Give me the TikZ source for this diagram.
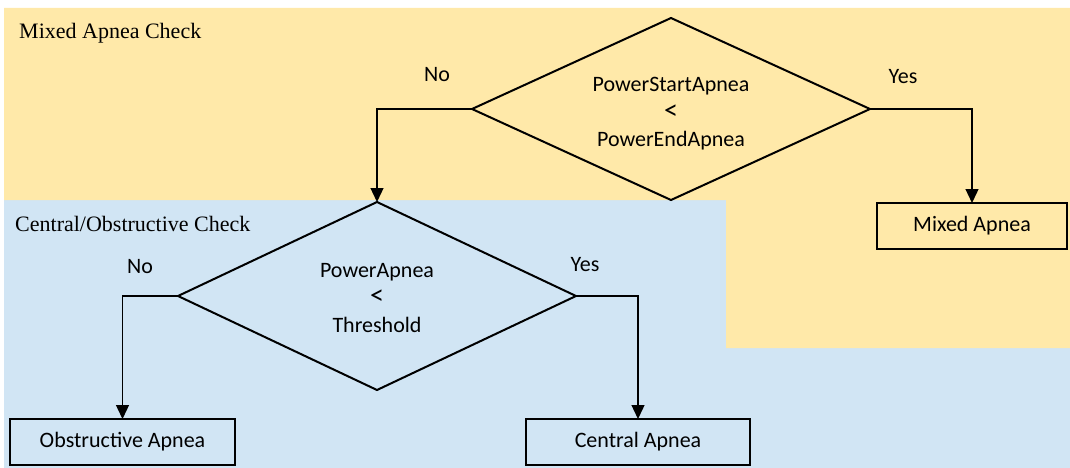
\documentclass[tikz,border=0pt]{standalone}
\usepackage{fontspec}
\setmainfont{Liberation Serif}
\newfontfamily\flowfont{Carlito}
\usetikzlibrary{shapes.geometric,arrows.meta}
\definecolor{mixedbg}{HTML}{FFE9A9}
\definecolor{centralbg}{HTML}{D1E5F4}
% the comparison sign, set a little larger than the words around it
\newcommand\lessmark{{\fontsize{28}{27.5}\selectfont<}}
\tikzset{
  flowtext/.style={font=\flowfont\fontsize{22}{27.5}\selectfont},
  decision/.style={diamond, draw, line width=2pt,
    inner sep=0pt, outer sep=0pt, minimum width=398pt},
  condition/.style={flowtext, align=center, inner sep=0pt},
  outcome/.style={flowtext, rectangle, draw, line width=2pt, inner sep=0pt,
    outer sep=0pt, minimum height=46pt},
  branch/.style={flowtext, inner sep=0pt},
  region/.style={font=\fontsize{22}{26}\selectfont, inner sep=0pt, anchor=west},
  flow/.style={line width=1.3pt, -{Triangle[width=13pt,length=14pt]}}
}
\begin{document}
\begin{tikzpicture}[x=1pt, y=-1pt]
  \useasboundingbox (0,0) rectangle (1070,468);
  % background bands
  \fill[centralbg] (4,200) rectangle (1070,468);
  \fill[mixedbg] (4,8) -- (1070,8) -- (1070,348) -- (726,348) -- (726,200) -- (4,200) -- cycle;
  \node[region] (mixtitle) at (19,33) {Mixed Apnea Check};
  \node[region] (cotitle) at (15,224) {Central/Obstructive Check};

  % decisions
  \node[decision, shape aspect=2.19, minimum height=182pt] (d1) at (671,109) {};
  \node[condition] (c1) at (671,114) {PowerStartApnea\\\lessmark\\PowerEndApnea};
  \node[decision, shape aspect=2.12, minimum height=188pt] (d2) at (377,296) {};
  \node[condition] (c2) at (377,298) {PowerApnea\\\lessmark\\Threshold};

  % outcomes
  \node[outcome, minimum width=190pt] (mixed) at (972,226) {Mixed Apnea};
  \node[outcome, minimum width=225pt] (obs) at (122.5,442) {Obstructive Apnea};
  \node[outcome, minimum width=224pt] (cen) at (638,442) {Central Apnea};

  % connectors
  \draw[flow] (d1.west) -| (d2.north);
  \draw[flow] (d1.east) -| (mixed.north);
  \draw[flow] (d2.west) -| (obs.north);
  \draw[flow] (d2.east) -| (cen.north);

  % branch labels
  \node[branch] (no1) at (437,75) {No};
  \node[branch] (yes1) at (903,77) {Yes};
  \node[branch] (no2) at (140,267) {No};
  \node[branch] (yes2) at (585,265) {Yes};
\end{tikzpicture}
\end{document}
